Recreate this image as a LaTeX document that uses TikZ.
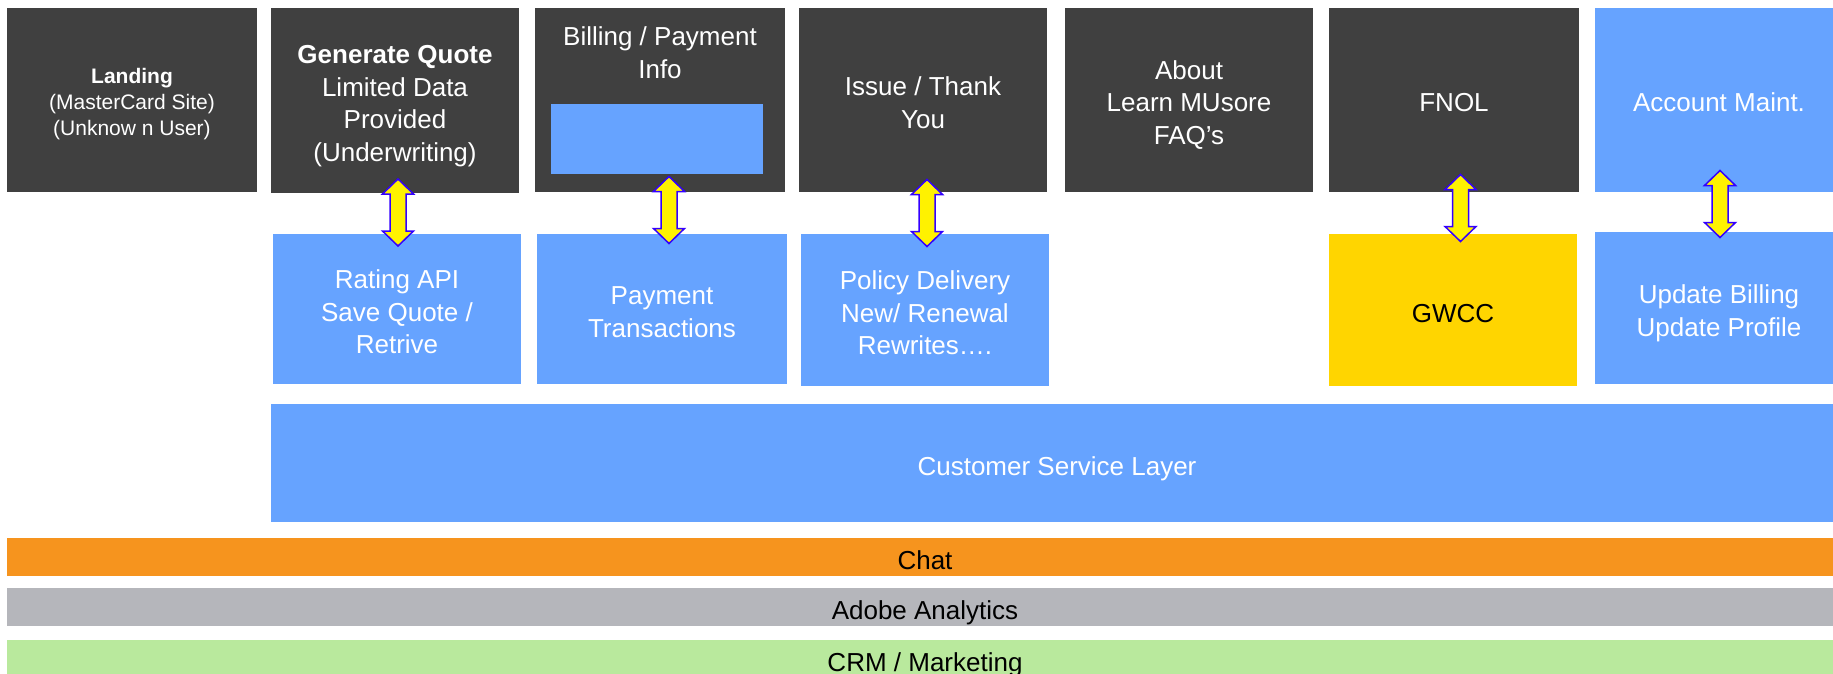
\documentclass[tikz,border=0pt]{standalone}
\usepackage{fontspec}
\setmainfont{Liberation Sans}
\usetikzlibrary{calc}

\begin{document}
\begin{tikzpicture}[x=1pt,y=-1pt,
  txt/.style={inner sep=0pt,text=white,align=center,text height=29.5pt,text depth=5.5pt,
    font=\fontsize{26}{32.5}\selectfont},
  nl/.style={text height=#1*32.5pt-3pt},
  darkbox/.style={txt,fill=mydark,minimum width=248pt,minimum height=184pt},
  bluebox/.style={txt,fill=myblue,minimum width=248pt,minimum height=150pt},
  band/.style={txt,text=black,minimum width=1836pt,minimum height=38pt},
  arrline/.style={draw=arrblue,fill=yellow,line width=1.5pt,line join=miter},
  pics/dblarr/.style={code={
    \draw[arrline] (0,-33.5) -- (15.5,-18.5) -- (8,-18.5) -- (8,18.5) -- (15.5,18.5)
      -- (0,33.5) -- (-15.5,18.5) -- (-8,18.5) -- (-8,-18.5) -- (-15.5,-18.5) -- cycle;
  }}]
\definecolor{mydark}{RGB}{64,64,64}
\definecolor{myblue}{RGB}{102,163,255}
\definecolor{mygold}{RGB}{255,213,0}
\definecolor{myorange}{RGB}{246,148,30}
\definecolor{mygray}{RGB}{181,182,187}
\definecolor{mygreen}{RGB}{185,233,157}
\definecolor{arrblue}{RGB}{51,0,255}
\useasboundingbox (0,0) rectangle (1833,674);

\node[darkbox,minimum width=250pt,font=\fontsize{21}{26}\selectfont,text height=75pt,text depth=4.5pt]
  (land) at (132,100) {\textbf{Landing}\\(MasterCard Site)\\(Unknow n User)};
\node[darkbox,nl=4,minimum height=185pt] (gen) at (395,100.5)
  {\textbf{Generate Quote}\\Limited Data\\Provided\\(Underwriting)};
\node[darkbox,minimum width=250pt] (bill) at (660,100) {};
\node[txt,nl=2] (billtxt) at (660,50) {Billing / Payment\\Info};
\node[fill=myblue,minimum width=212pt,minimum height=70pt,inner sep=0pt] (billin) at (657,139) {};
\node[darkbox,nl=2] (issue) at (923,100) {Issue / Thank\\You};
\node[darkbox,nl=3] (about) at (1189,100) {About\\Learn MUsore\\FAQ’s};
\node[darkbox,minimum width=250pt] (fnol) at (1454,100) {FNOL};
\node[darkbox,fill=myblue] (acct) at (1719,100) {Account Maint.};

\node[bluebox,nl=3] (rate) at (397,309) {Rating API\\Save Quote /\\Retrive};
\node[bluebox,nl=2,minimum width=250pt] (pay) at (662,309) {Payment\\Transactions};
\node[bluebox,nl=3,minimum height=152pt] (policy) at (925,310) {Policy Delivery\\New/ Renewal\\Rewrites….};
\node[bluebox,fill=mygold,text=black,minimum height=152pt] (gwcc) at (1453,310) {GWCC};
\node[bluebox,nl=2,minimum height=152pt] (upd) at (1719,308) {Update Billing\\Update Profile};

\node[bluebox,minimum width=1572pt,minimum height=118pt] (csl) at (1057,463) {Customer Service Layer};
\node[band,fill=myorange] (chat) at (925,557) {Chat};
\node[band,fill=mygray] (adobe) at (925,607) {Adobe Analytics};
\node[band,fill=mygreen] (crm) at (925,659) {CRM / Marketing};

\pic (a1) at ($(gen.south)!.5!(rate.north)+(2,-1)$) {dblarr};
\pic (a2) at ($(bill.south)!.5!(pay.north)+(8,-3)$) {dblarr};
\pic (a3) at ($(issue.south)!.5!(policy.north)+(3,0)$) {dblarr};
\pic (a4) at ($(fnol.south)!.5!(gwcc.north)+(7,-5)$) {dblarr};
\pic (a5) at ($(acct.south)!.5!(upd.north)+(1,-8)$) {dblarr};
\end{tikzpicture}
\end{document}
